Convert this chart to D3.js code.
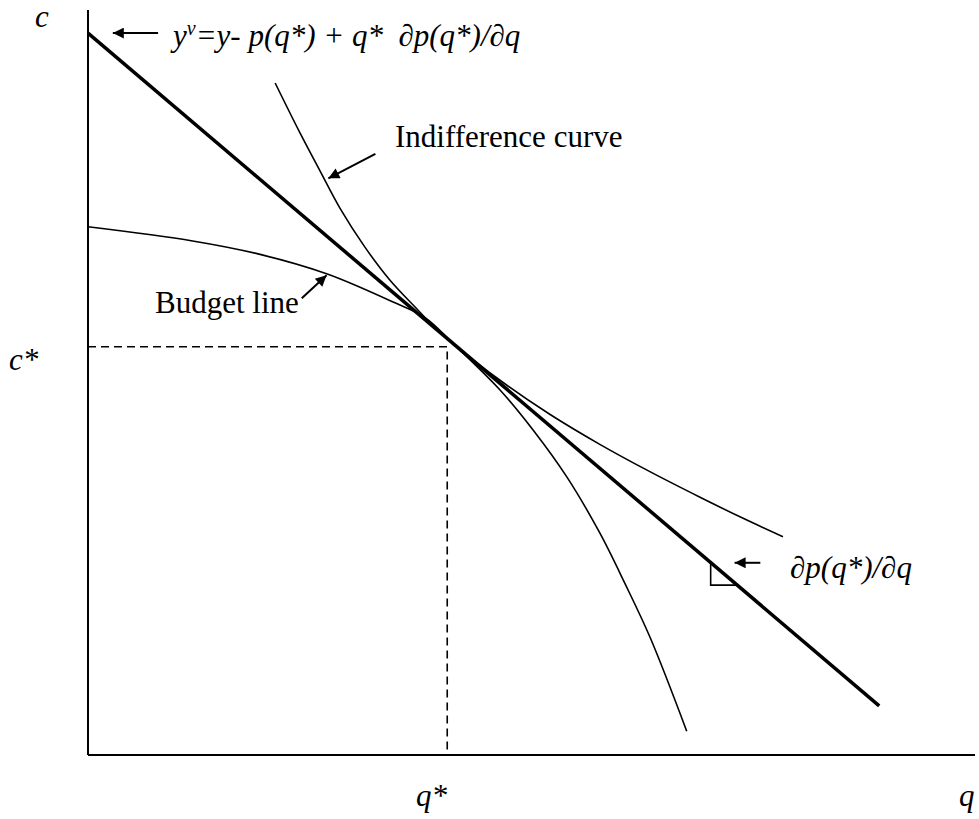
<!DOCTYPE html>
<html>
<head>
<meta charset="utf-8">
<script src="https://cdn.jsdelivr.net/npm/d3@7"></script>
<style>
  html, body { margin: 0; padding: 0; background: #fff; }
  svg { display: block; }
  text { font-family: "Liberation Serif", "Times New Roman", serif; fill: #000; white-space: pre; }
</style>
</head>
<body>
<svg id="chart" width="979" height="819"></svg>
<script>
// ---- data (abstract units: q on x 0..100, c on y 0..100) ----
const qStar = 40.5;
const cStar = 54.8;

// tangent (price) line endpoints
const tangentLine = [
  { q: 0.0,  c: 96.9 },
  { q: 89.2, c: 6.6 }
];

// indifference curve (convex)
const indifferenceCurve = [
  { q: 21.1, c: 90.2 }, { q: 23.9, c: 83.5 }, { q: 26.2, c: 78.3 },
  { q: 28.4, c: 73.4 }, { q: 31.2, c: 68.2 }, { q: 34.0, c: 63.8 },
  { q: 36.9, c: 60.1 }, { q: 39.1, c: 57.4 }, { q: 41.1, c: 55.3 },
  { q: 46.45, c: 50.3 }, { q: 52.1, c: 45.7 }, { q: 57.7, c: 41.7 },
  { q: 63.4, c: 38.0 }, { q: 69.0, c: 34.6 }, { q: 73.8, c: 31.8 },
  { q: 78.35, c: 29.3 }
];

// budget line (concave)
const budgetLine = [
  { q: 0.0,  c: 70.9 }, { q: 11.8, c: 69.0 }, { q: 19.4, c: 67.2 },
  { q: 26.9, c: 64.6 }, { q: 34.4, c: 60.8 }, { q: 38.0, c: 58.7 },
  { q: 41.1, c: 55.3 }, { q: 46.45, c: 49.0 }, { q: 50.2, c: 43.6 },
  { q: 54.0, c: 37.3 }, { q: 57.7, c: 29.8 }, { q: 60.5, c: 23.1 },
  { q: 63.4, c: 15.7 }, { q: 67.5, c: 3.2 }
];

// slope mark (right-angle triangle under the tangent line)
const slopeMark = { q1: 70.2, q2: 73.2 };

// annotation arrows: from tail to head
const arrows = [
  { from: [7.9, 96.9],  to: [2.8, 96.9] },
  { from: [32.4, 80.7], to: [27.1, 77.4] },
  { from: [24.1, 61.3], to: [26.9, 64.4] },
  { from: [75.8, 25.8], to: [72.9, 25.8] }
];

// ---- layout ----
const svg = d3.select("#chart");
const x = d3.scaleLinear().domain([0, 100]).range([88, 975]);
const y = d3.scaleLinear().domain([0, 100]).range([755, 10]);

svg.append("defs").append("marker")
  .attr("id", "arrow")
  .attr("viewBox", "0 0 10 10")
  .attr("refX", 10).attr("refY", 5)
  .attr("markerUnits", "userSpaceOnUse")
  .attr("markerWidth", 15).attr("markerHeight", 11)
  .attr("orient", "auto")
  .append("path").attr("d", "M0,0 L10,5 L0,10 z").attr("fill", "#000");

// axes (plain lines, no ticks)
svg.append("line")
  .attr("x1", x(0)).attr("y1", y(0))
  .attr("x2", x(0)).attr("y2", y(100))
  .attr("stroke", "#000").attr("stroke-width", 2);
svg.append("line")
  .attr("x1", x(0)).attr("y1", y(0))
  .attr("x2", x(100)).attr("y2", y(0))
  .attr("stroke", "#000").attr("stroke-width", 2);

// dashed guides
svg.append("path")
  .attr("d", `M${x(0)},${y(cStar)} H${x(qStar)} V${y(0)}`)
  .attr("fill", "none").attr("stroke", "#000")
  .attr("stroke-width", 1.6).attr("stroke-dasharray", "8,5");

const curve = d3.line().x(d => x(d.q)).y(d => y(d.c))
  .curve(d3.curveCatmullRom.alpha(0.5));
const straight = d3.line().x(d => x(d.q)).y(d => y(d.c));

svg.append("path").datum(indifferenceCurve)
  .attr("d", curve).attr("fill", "none")
  .attr("stroke", "#000").attr("stroke-width", 1.6);
svg.append("path").datum(budgetLine)
  .attr("d", curve).attr("fill", "none")
  .attr("stroke", "#000").attr("stroke-width", 1.6);
svg.append("path").datum(tangentLine)
  .attr("d", straight).attr("fill", "none")
  .attr("stroke", "#000").attr("stroke-width", 3.5);

// slope mark
const lineC = q => {
  const a = tangentLine[0], b = tangentLine[1];
  return a.c + (b.c - a.c) * (q - a.q) / (b.q - a.q);
};
svg.append("path")
  .attr("d", `M${x(slopeMark.q1)},${y(lineC(slopeMark.q1))} V${y(lineC(slopeMark.q2))} H${x(slopeMark.q2)}`)
  .attr("fill", "none").attr("stroke", "#000").attr("stroke-width", 1.6);

// arrows
svg.selectAll("line.arrow").data(arrows).enter().append("line")
  .attr("class", "arrow")
  .attr("x1", d => x(d.from[0])).attr("y1", d => y(d.from[1]))
  .attr("x2", d => x(d.to[0])).attr("y2", d => y(d.to[1]))
  .attr("stroke", "#000").attr("stroke-width", 2)
  .attr("marker-end", "url(#arrow)");

// texts
const fs = 31;
function label(px, py, txt, italic) {
  return svg.append("text").attr("x", px).attr("y", py)
    .attr("font-size", fs).attr("font-style", italic ? "italic" : "normal")
    .text(txt);
}
label(35, 27, "c", true);
label(9, 370, "c*", true);
label(416, 806, "q*", true);
label(959, 806, "q", true);
label(395, 147, "Indifference curve", false);
label(155, 313, "Budget line", false);
label(790, 578, "∂p(q*)/∂q", true);

const f = svg.append("text").attr("x", 173).attr("y", 46)
  .attr("font-size", fs).attr("font-style", "italic");
f.append("tspan").text("y");
f.append("tspan").attr("font-size", 20).attr("dy", -11).text("v");
f.append("tspan").attr("dy", 11).text("=y- p(q*) + q*  ∂p(q*)/∂q");
</script>
</body>
</html>
